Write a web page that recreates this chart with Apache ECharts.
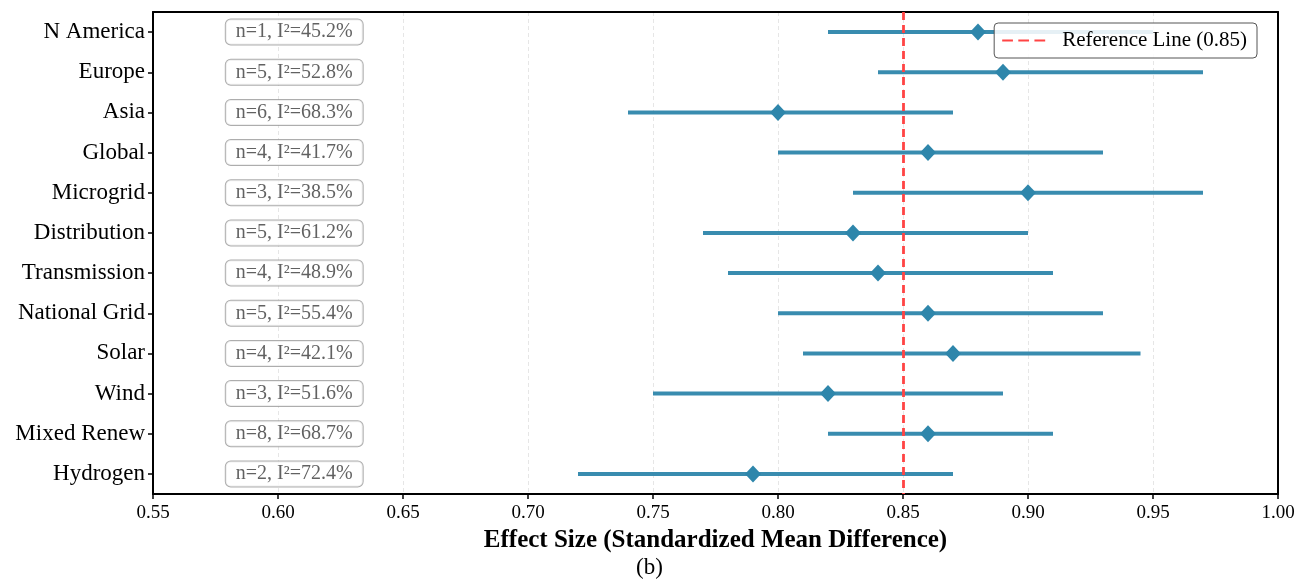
<!DOCTYPE html>
<html><head><meta charset="utf-8">
<script src="https://cdn.jsdelivr.net/npm/echarts@6/dist/echarts.min.js"></script>
<style>html,body{margin:0;padding:0;background:#fff}#c{width:1311px;height:584px}</style>
</head><body><div id="c"></div>
<script>
const categories = ['N America','Europe','Asia','Global','Microgrid','Distribution','Transmission','National Grid','Solar','Wind','Mixed Renew','Hydrogen'];
const effect = [0.88,0.89,0.80,0.86,0.90,0.83,0.84,0.86,0.87,0.82,0.86,0.79];
const ciLow  = [0.82,0.84,0.74,0.80,0.83,0.77,0.78,0.80,0.81,0.75,0.82,0.72];
const ciHigh = [0.95,0.97,0.87,0.93,0.97,0.90,0.91,0.93,0.945,0.89,0.91,0.87];
const nStudies = [1,5,6,4,3,5,4,5,4,3,8,2];
const i2 = [45.2,52.8,68.3,41.7,38.5,61.2,48.9,55.4,42.1,51.6,68.7,72.4];
const refValue = 0.85;

const serif = '"Liberation Serif","Times New Roman",serif';
const blue = '#2E86AB';
const chart = echarts.init(document.getElementById('c'));
const annX = 0.6065;
chart.setOption({
  animation:false,
  grid:{left:153,right:33,top:12,bottom:90},
  legend:{
    data:[{name:'Reference Line (0.85)',icon:'path://M0,0h10v2H0z M15,0h10v2h-10z M30,0h10v2h-10z'}],
    right:54, top:23, orient:'vertical',
    itemWidth:43, itemHeight:3, itemGap:5,
    padding:[7,10,7,8],
    backgroundColor:'rgba(255,255,255,0.88)', borderColor:'#555', borderWidth:1, borderRadius:4,
    textStyle:{fontFamily:serif,fontSize:21,color:'#000',padding:[0,0,0,12]}
  },
  xAxis:[{type:'value',min:0.55,max:1.00,interval:0.05,
    name:'Effect Size (Standardized Mean Difference)',nameLocation:'middle',nameGap:34,
    nameTextStyle:{fontFamily:serif,fontSize:25,fontWeight:'bold',color:'#000'},
    axisLine:{show:true,lineStyle:{color:'#000',width:2}},
    axisTick:{show:true,length:5,lineStyle:{color:'#000',width:1.5}},
    axisLabel:{fontFamily:serif,fontSize:19,color:'#000',margin:10,formatter:v=>v.toFixed(2)},
    splitLine:{show:true,lineStyle:{color:'#e6e6e6',type:[4,3],width:1}}
  },{type:'value',position:'top',min:0.55,max:1.00,
    axisLine:{show:true,lineStyle:{color:'#000',width:2}},
    axisTick:{show:false},axisLabel:{show:false},splitLine:{show:false}}],
  yAxis:[{type:'category',data:categories,inverse:true,
    axisLine:{show:true,lineStyle:{color:'#000',width:2}},
    axisTick:{show:true,alignWithLabel:true,length:5,lineStyle:{color:'#000',width:1.5}},
    axisLabel:{fontFamily:serif,fontSize:23,color:'#000',margin:8},
    splitLine:{show:false}
  },{type:'category',data:categories,inverse:true,position:'right',
    axisLine:{show:true,lineStyle:{color:'#000',width:2}},
    axisTick:{show:false},axisLabel:{show:false},splitLine:{show:false}}],
  series:[
    {type:'custom',name:'CI',z:2,
      data:categories.map((c,i)=>[ciLow[i],ciHigh[i],i]),
      encode:{x:[0,1],y:2},
      renderItem:(params,api)=>{
        const a=api.coord([api.value(0),api.value(2)]);
        const b=api.coord([api.value(1),api.value(2)]);
        return {type:'line',shape:{x1:a[0],y1:a[1],x2:b[0],y2:b[1]},
          style:{stroke:blue,lineWidth:4,opacity:0.95}};
      }},
    {type:'scatter',name:'Effect',z:4,symbol:'diamond',symbolSize:[16,17],
      itemStyle:{color:blue,opacity:1},
      data:categories.map((c,i)=>[effect[i],i])},
    {type:'scatter',name:'ann',z:5,symbolSize:0,silent:true,
      data:categories.map((c,i)=>[annX,i]),
      label:{show:true,position:'inside',
        formatter:p=>'n='+nStudies[p.dataIndex]+', I\u00b2='+i2[p.dataIndex].toFixed(1)+'%',
        fontFamily:serif,fontSize:20,color:'#3a3a3a',
        backgroundColor:'#fff',borderColor:'#999',borderWidth:1,borderRadius:5,
        padding:[3,10,2,10]}},
    {type:'line',name:'Reference Line (0.85)',data:[],z:3,
      symbol:'none',
      lineStyle:{color:'#FF4444',type:'dashed',width:2.5},
      itemStyle:{color:'#FF4444'},
      markLine:{silent:true,symbol:'none',label:{show:false},
        lineStyle:{color:'#FF4444',type:[8,5],width:2.8},
        data:[{xAxis:refValue}]}}
  ],
  graphic:[{type:'text',left:636,top:556,style:{text:'(b)',font:'23px '+serif,fill:'#000'}}]
});
</script></body></html>
